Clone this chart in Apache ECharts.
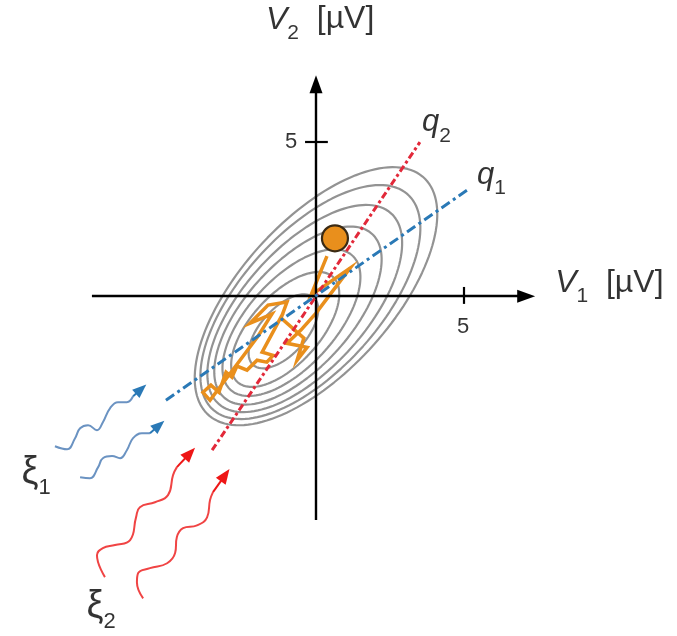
<!DOCTYPE html>
<html>
<head>
<meta charset="utf-8">
<script src="https://cdn.jsdelivr.net/npm/echarts@6/dist/echarts.min.js"></script>
<style>
  html, body { margin: 0; padding: 0; background: #ffffff; }
  #chart { width: 677px; height: 636px; }
</style>
</head>
<body>
<div id="chart"></div>
<script>
// ---- values (µV) ----
const tickValues = [5];
const tickLabels = ['5'];

// principal directions q1, q2 (end points)
const q1Line = [[-5.07, -3.38], [5.1, 3.44]];
const q2Line = [[-3.51, -5.0], [3.51, 5.0]];

// equal-probability contours: centre, semi-axes, orientation (deg)
const ellipseCx = [0, -0.19, -0.38, -0.61, -0.83, -1.04, -1.1];
const ellipseCy = [0, -0.19, -0.40, -0.63, -0.86, -1.08, -1.14];
const ellipseA = [5.3, 4.8, 4.25, 3.65, 3.0, 2.35, 1.5];
const ellipseB = [2.5, 2.28, 2.02, 1.74, 1.45, 1.14, 0.76];
const ellipseAngle = 46;

// noisy trajectory (V1, V2)
const trajectory = [
  [0.37, 1.30], [-0.17, 0.03], [1.15, 0.91], [0.00, -0.55], [-0.51, -1.10],
  [-0.98, -1.53], [-0.30, -1.66], [-0.64, -2.08], [-0.41, -1.36], [-1.18, -0.71],
  [-0.98, -0.19], [-1.62, -0.29], [-2.23, -0.88], [-1.49, -0.58], [-1.96, -1.30],
  [-3.58, -3.38], [-3.82, -3.12], [-3.55, -2.89], [-3.28, -3.12], [-3.04, -2.47],
  [-2.84, -2.63], [-2.67, -2.27], [-2.33, -2.40], [-1.99, -2.08], [-1.66, -2.14],
  [-1.45, -1.92], [-1.82, -1.82], [-1.11, -0.55]
];
const currentState = [0.64, 1.88];

// noise inputs xi1 (blue) and xi2 (red): wave paths, last point is the arrow tip
const xi1WaveA = [
  [-8.82, -4.87], [-8.41, -4.97], [-8.14, -4.61], [-7.97, -4.29], [-7.70, -4.19],
  [-7.40, -4.35], [-7.20, -4.09], [-6.96, -3.64], [-6.69, -3.44], [-6.39, -3.44],
  [-6.18, -3.25], [-5.91, -3.02]
];
const xi1WaveB = [
  [-7.97, -5.88], [-7.64, -5.91], [-7.36, -5.55], [-7.20, -5.26], [-6.89, -5.19],
  [-6.62, -5.26], [-6.39, -5.00], [-6.18, -4.61], [-5.88, -4.45], [-5.61, -4.45],
  [-5.30, -4.19]
];
const xi2WaveA = [
  [-7.13, -9.12], [-7.40, -8.41], [-7.20, -8.18], [-6.79, -8.08], [-6.28, -7.92],
  [-6.08, -7.18], [-5.95, -6.85], [-5.44, -6.69], [-5.00, -6.46], [-4.83, -5.81],
  [-4.70, -5.55], [-4.26, -5.10]
];
const xi2WaveB = [
  [-5.84, -9.81], [-6.05, -9.29], [-6.01, -8.99], [-5.61, -8.83], [-5.03, -8.67],
  [-4.76, -8.34], [-4.70, -7.82], [-4.49, -7.53], [-4.02, -7.44], [-3.68, -7.18],
  [-3.58, -6.62], [-3.48, -6.36], [-3.07, -5.81]
];

// ---- drawing ----
const FONT = 'Liberation Sans';
const INK = '#000000';
const GREY = '#939393';
const ORANGE = '#e98f1c';
const RED = '#e2293a';
const BLUE = '#2a79b6';

function ellipse(i) {
  const th = ellipseAngle * Math.PI / 180;
  const pts = [];
  for (let k = 0; k <= 144; k++) {
    const t = k / 144 * 2 * Math.PI;
    const u = ellipseA[i] * Math.cos(t), v = ellipseB[i] * Math.sin(t);
    pts.push([ellipseCx[i] + u * Math.cos(th) - v * Math.sin(th),
              ellipseCy[i] + u * Math.sin(th) + v * Math.cos(th)]);
  }
  return pts;
}

function wave(points, lineColor, headColor, headSize) {
  const n = points.length;
  return {
    type: 'line', data: points.slice(0, n - 1), smooth: 0.45, symbol: 'none',
    lineStyle: { color: lineColor, width: 2 }, z: 4,
    markLine: {
      silent: true, animation: false, symbol: ['none', 'triangle'], symbolSize: headSize,
      label: { show: false },
      lineStyle: { color: headColor, width: 2, type: 'solid' },
      data: [[{ coord: points[n - 2] }, { coord: points[n - 1] }]]
    }
  };
}

const rich = {
  it: { fontFamily: FONT, fontStyle: 'italic', fontSize: 32, color: INK, verticalAlign: 'bottom', padding: [0, 0, 8, 0] },
  rm: { fontFamily: FONT, fontSize: 32, color: INK, verticalAlign: 'bottom', padding: [0, 0, 8, 0] },
  sub: { fontFamily: FONT, fontSize: 21, color: INK, verticalAlign: 'bottom' },
  qi: { fontFamily: FONT, fontStyle: 'italic', fontSize: 31, color: INK, verticalAlign: 'bottom', padding: [0, 0, 8, 0] },
  xi: { fontFamily: FONT, fontSize: 38, color: INK, verticalAlign: 'bottom', padding: [0, 0, 8, 0] },
  xsub: { fontFamily: FONT, fontSize: 22, color: INK, verticalAlign: 'bottom' },
  num: { fontFamily: FONT, fontSize: 22, color: INK }
};

function textItem(pos, text, align) {
  return {
    value: pos,
    label: { show: true, formatter: text, align: align || 'left', verticalAlign: 'middle', rich }
  };
}

const series = [];

for (let i = 0; i < ellipseA.length; i++) {
  series.push({
    type: 'line', data: ellipse(i), symbol: 'none', smooth: false,
    lineStyle: { color: GREY, width: 2.2 }, z: 2
  });
}

// axes with arrows and ticks
series.push({
  type: 'line', data: [], z: 6,
  markLine: {
    silent: true, animation: false, symbol: ['none', 'triangle'], symbolSize: [13, 18],
    label: { show: false },
    lineStyle: { color: INK, width: 2.4, type: 'solid' },
    data: [
      [{ coord: [-7.57, 0] }, { coord: [7.1, 0] }],
      [{ coord: [0, -7.27] }, { coord: [0, 6.88] }]
    ]
  }
});
series.push({
  type: 'line', data: [], z: 6,
  markLine: {
    silent: true, animation: false, symbol: 'none',
    label: { show: false },
    lineStyle: { color: INK, width: 2.2, type: 'solid' },
    data: [
      [{ coord: [tickValues[0], 0.3] }, { coord: [tickValues[0], -0.25] }],
      [{ coord: [-0.37, tickValues[0]] }, { coord: [0.4, tickValues[0]] }]
    ]
  }
});

// principal directions
series.push({
  type: 'line', data: q2Line, symbol: 'none', z: 5,
  lineStyle: { color: RED, width: 3, type: [7, 3, 3, 3] }
});
series.push({
  type: 'line', data: q1Line, symbol: 'none', z: 5,
  lineStyle: { color: BLUE, width: 3, type: [10, 4, 3, 4] }
});

// trajectory and current state
series.push({
  type: 'line', data: trajectory, symbol: 'none', z: 4,
  lineStyle: { color: ORANGE, width: 3.5, join: 'miter' }
});
series.push({
  type: 'scatter', data: [currentState], symbolSize: 26, z: 7,
  itemStyle: { color: ORANGE, borderColor: '#3a2a14', borderWidth: 2.2, opacity: 1 }
});

// noise arrows
series.push(wave(xi1WaveA, '#6b93c2', BLUE, [11, 14]));
series.push(wave(xi1WaveB, '#6b93c2', BLUE, [11, 14]));
series.push(wave(xi2WaveA, '#f04444', '#ee1616', [12, 15]));
series.push(wave(xi2WaveB, '#f04444', '#ee1616', [12, 15]));

// text
series.push({
  type: 'scatter', symbolSize: 1, z: 8,
  itemStyle: { color: 'rgba(0,0,0,0)' },
  label: { show: true, position: 'inside' },
  data: [
    textItem([-1.69, 8.85], '{it|V}{sub|2}{rm|  [µV]}'),
    textItem([8.08, 0.3], '{it|V}{sub|1}{rm|  [µV]}'),
    textItem([3.58, 5.5], '{qi|q}{sub|2}'),
    textItem([5.44, 3.8], '{qi|q}{sub|1}'),
    textItem([-9.95, -5.85], '{xi|ξ}{xsub|1}'),
    textItem([-7.75, -10.2], '{xi|ξ}{xsub|2}'),
    textItem([4.97, -1.0], '{num|' + tickLabels[0] + '}', 'center'),
    textItem([-0.84, 5.0], '{num|' + tickLabels[0] + '}', 'center')
  ]
});

const chart = echarts.init(document.getElementById('chart'), null, { renderer: 'canvas' });
chart.setOption({
  animation: false,
  backgroundColor: '#ffffff',
  grid: { left: 20, right: 5.8, top: 19, bottom: 1, containLabel: false },
  xAxis: { type: 'value', min: -10, max: 12, show: false },
  yAxis: { type: 'value', min: -11, max: 9, show: false },
  series
});
</script>
</body>
</html>
